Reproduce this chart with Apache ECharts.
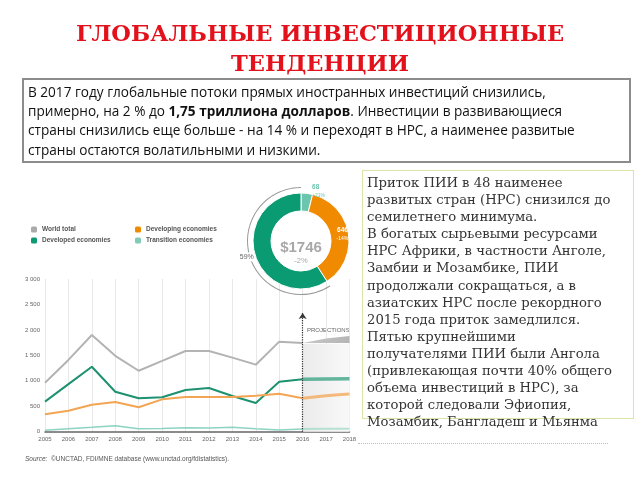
<!DOCTYPE html>
<html>
<head>
<meta charset="utf-8">
<script src="https://cdn.jsdelivr.net/npm/echarts@6/dist/echarts.min.js"></script>
<style>
  body { margin: 0; background: #fff; }
  #slide { position: relative; width: 640px; height: 480px; overflow: hidden; }
  #main { position: absolute; left: 0; top: 0; width: 640px; height: 480px; }
  .title {
    position: absolute; left: 0; top: 18px; width: 640px; text-align: center;
    font-family: "DejaVu Serif", serif; font-weight: bold; font-size: 22.5px;
    line-height: 30px; color: #e3111b;
  }
  .box1 {
    position: absolute; left: 22px; top: 78px; width: 598px; height: 79px;
    border: 2px solid #8c8c8c; padding: 2px 3px 0 4px; white-space: nowrap;
    font-family: "Open Sans", sans-serif; font-size: 13.6px; line-height: 19.2px; color: #111;
  }
  .box2 {
    position: absolute; left: 362px; top: 170px; width: 266px; height: 244px;
    border: 1.5px solid #d8e5a6; padding: 3px 0 0 4px; white-space: nowrap;
    font-family: "DejaVu Serif", serif; font-size: 13.2px; line-height: 17.1px; color: #333;
  }
  .src {
    position: absolute; left: 25px; top: 455px;
    font-family: "Liberation Sans Narrow", "Liberation Sans", sans-serif; font-size: 6.5px; color: #555;
  }
  .dots { position: absolute; left: 358px; top: 443px; width: 250px; border-top: 1px dotted #bbb; }
</style>
</head>
<body>
<div id="slide">
  <div id="main"></div>
  <div class="title">ГЛОБАЛЬНЫЕ ИНВЕСТИЦИОННЫЕ<br>ТЕНДЕНЦИИ</div>
  <div class="box1">В 2017 году глобальные потоки прямых иностранных инвестиций снизились,<br>примерно, на 2 % до <b>1,75 триллиона долларов</b>. Инвестиции в развивающиеся<br>страны снизились еще больше - на 14 % и переходят в НРС, а наименее развитые<br>страны остаются волатильными и низкими.</div>
  <div class="box2">Приток ПИИ в 48 наименее<br>развитых стран (НРС) снизился до<br>семилетнего минимума.<br>В богатых сырьевыми ресурсами<br>НРС Африки, в частности Анголе,<br>Замбии и Мозамбике, ПИИ<br>продолжали сокращаться, а в<br>азиатских НРС после рекордного<br>2015 года приток замедлился.<br>Пятью крупнейшими<br>получателями ПИИ были Ангола<br>(привлекающая почти 40% общего<br>объема инвестиций в НРС), за<br>которой следовали Эфиопия,<br>Мозамбик, Бангладеш и Мьянма</div>
  <div class="dots"></div>
  <div class="src"><i>Source:</i>&nbsp; ©UNCTAD, FDI/MNE database (www.unctad.org/fdistatistics).</div>
</div>
<script>
// данные
var years = ["2005", "2006", "2007", "2008", "2009", "2010", "2011", "2012", "2013", "2014", "2015", "2016", "2017", "2018"];
var worldTotal = [963, 1410, 1900, 1490, 1198, 1390, 1585, 1585, 1455, 1317, 1769, 1743, null, null];
var developed = [590, 935, 1277, 786, 656, 676, 819, 858, 701, 564, 983, 1029, null, null];
var developing = [341, 413, 531, 583, 479, 636, 682, 680, 684, 708, 747, 656, null, null];
var transition = [27, 59, 86, 118, 59, 65, 79, 73, 86, 59, 33, 52, null, null];

// прогноз 2016-2018
var worldProjLow = [null, null, null, null, null, null, null, null, null, null, null, 1743, 1745, 1745];
var worldProjBand = [null, null, null, null, null, null, null, null, null, null, null, 0, 85, 135];
var developedProj = [null, null, null, null, null, null, null, null, null, null, null, 1029, 1035, 1040];
var developingProj = [null, null, null, null, null, null, null, null, null, null, null, 656, 705, 740];
var transitionProj = [null, null, null, null, null, null, null, null, null, null, null, 52, 56, 58];

// кольцевая диаграмма 2016
var donutNames = ["Transition 2016", "Developing 2016", "Developed 2016"];
var donutValues = [68, 646, 1032];
var donutChanges = ["+21%", "-14%", "+5%"];
var totalChange = "-2%";

var NARROW = '"Liberation Sans Narrow", "Liberation Sans", sans-serif';

function fmtThousands(v) {
  var s = String(v);
  return s.length > 3 ? s.slice(0, s.length - 3) + " " + s.slice(-3) : s;
}

var total = donutValues.reduce(function (a, b) { return a + b; }, 0);
var devShare = Math.round((donutValues[2] / total) * 100) + "%";

var myChart = echarts.init(document.getElementById("main"));

var legendText = { fontSize: 6.5, color: "#555", fontWeight: "bold", fontFamily: NARROW };

var option = {
  animation: false,
  grid: { left: 45, right: 290.5, top: 279, bottom: 48.3 },
  legend: [
    {
      left: 26, top: 221, orient: "vertical", itemWidth: 6, itemHeight: 6, itemGap: 4,
      icon: "roundRect", selectedMode: false, textStyle: legendText,
      data: [
        { name: "World total", itemStyle: { color: "#aaaaaa" } },
        { name: "Developed economies", itemStyle: { color: "#0f9a73" } },
      ],
    },
    {
      left: 130, top: 221, orient: "vertical", itemWidth: 6, itemHeight: 6, itemGap: 4,
      icon: "roundRect", selectedMode: false, textStyle: legendText,
      data: [
        { name: "Developing economies", itemStyle: { color: "#f08a00" } },
        { name: "Transition economies", itemStyle: { color: "#7fcbb5" } },
      ],
    },
  ],
  xAxis: {
    type: "category",
    boundaryGap: false,
    data: years,
    axisLine: { lineStyle: { color: "#666", width: 1.5 } },
    axisTick: { show: false },
    axisLabel: { interval: 0, fontSize: 6, color: "#666", margin: 5, fontFamily: NARROW },
    splitLine: { show: true, lineStyle: { color: "#e8e8e8" } },
  },
  yAxis: {
    type: "value",
    min: 0,
    max: 3000,
    interval: 500,
    axisLine: { show: false },
    axisTick: { show: false },
    splitLine: { show: false },
    axisLabel: { fontSize: 6, color: "#666", margin: 5, fontFamily: NARROW, formatter: fmtThousands },
  },
  graphic: [
    {
      type: "text", x: 307, y: 330,
      style: { text: "PROJECTIONS", fill: "#666", font: "6px " + NARROW, textVerticalAlign: "middle" },
    },
    {
      type: "text", x: 301, y: 248,
      style: { text: "$" + total, fill: "#a8a8a8", font: "bold 15px " + NARROW, textAlign: "center", textVerticalAlign: "middle" },
    },
    {
      type: "text", x: 301, y: 261,
      style: { text: totalChange, fill: "#a8a8a8", font: "7.5px " + NARROW, textAlign: "center", textVerticalAlign: "middle" },
    },
  ],
  series: [
    {
      name: "World total", type: "line", data: worldTotal, showSymbol: false,
      lineStyle: { color: "#b3b3b3", width: 2 }, itemStyle: { color: "#b3b3b3" },
      markArea: {
        silent: true,
        itemStyle: {
          color: new echarts.graphic.LinearGradient(0, 0, 1, 0, [
            { offset: 0, color: "#ebebeb" },
            { offset: 1, color: "#f9f9f9" },
          ]),
        },
        data: [[{ xAxis: "2016", yAxis: 0 }, { xAxis: "2018", yAxis: 1730 }]],
      },
      markLine: {
        silent: true,
        symbol: ["none", "arrow"],
        symbolSize: 6,
        label: { show: false },
        lineStyle: { color: "#333", type: "dotted", width: 1.2 },
        data: [[{ coord: ["2016", 0] }, { coord: ["2016", 2332] }]],
      },
    },
    {
      name: "Developed economies", type: "line", data: developed, showSymbol: false,
      lineStyle: { color: "#1e9170", width: 2 }, itemStyle: { color: "#1e9170" },
    },
    {
      name: "Developing economies", type: "line", data: developing, showSymbol: false,
      lineStyle: { color: "#f3a553", width: 2 }, itemStyle: { color: "#f3a553" },
    },
    {
      name: "Transition economies", type: "line", data: transition, showSymbol: false,
      lineStyle: { color: "#8dd3c1", width: 1.5 }, itemStyle: { color: "#8dd3c1" },
    },
    // прогнозы
    {
      type: "line", stack: "wproj", data: worldProjLow, showSymbol: false, silent: true,
      lineStyle: { width: 0 },
    },
    {
      type: "line", stack: "wproj", data: worldProjBand, showSymbol: false, silent: true,
      lineStyle: { width: 0 },
      areaStyle: {
        opacity: 1,
        color: new echarts.graphic.LinearGradient(0, 0, 1, 0, [
          { offset: 0, color: "#c8c8c8" },
          { offset: 1, color: "#b5b5b5" },
        ]),
      },
    },
    {
      type: "line", data: developedProj, showSymbol: false, silent: true,
      lineStyle: { color: "#3fa585", width: 3.5, opacity: 0.8 },
    },
    {
      type: "line", data: developingProj, showSymbol: false, silent: true, smooth: true,
      lineStyle: { color: "#f3a553", width: 3, opacity: 0.75 },
    },
    {
      type: "line", data: transitionProj, showSymbol: false, silent: true,
      lineStyle: { color: "#9bd8c8", width: 2, opacity: 0.7 },
    },
    // кольцо
    {
      type: "pie",
      center: [301, 241],
      radius: [30, 48],
      startAngle: 90,
      silent: true,
      itemStyle: { borderColor: "#fff", borderWidth: 1 },
      label: {
        position: "inside",
        color: "#fff",
        fontFamily: NARROW,
        lineHeight: 8,
        formatter: function (p) {
          return "{v|" + fmtThousands(p.value) + "}\n{c|" + donutChanges[p.dataIndex] + "}";
        },
        rich: {
          v: { fontSize: 6.5, fontWeight: "bold", color: "#fff", fontFamily: NARROW },
          c: { fontSize: 5, color: "#fff", fontFamily: NARROW },
        },
      },
      labelLine: { show: false, length: 2, length2: 0 },
      data: [
        {
          name: donutNames[0], value: donutValues[0], itemStyle: { color: "#6cc5ae" },
          label: {
            position: "outside",
            rich: {
              v: { fontSize: 6.5, fontWeight: "bold", color: "#6cc5ae", fontFamily: NARROW },
              c: { fontSize: 5, color: "#6cc5ae", fontFamily: NARROW },
            },
          },
        },
        { name: donutNames[1], value: donutValues[1], itemStyle: { color: "#f08a00" } },
        { name: donutNames[2], value: donutValues[2], itemStyle: { color: "#0a9b73" } },
      ],
    },
    {
      type: "pie",
      center: [301, 241],
      radius: [53, 54],
      startAngle: 90,
      silent: true,
      label: { show: false },
      labelLine: { show: false },
      data: [
        { name: "rest", value: donutValues[0] + donutValues[1], itemStyle: { color: "rgba(0,0,0,0)" } },
        {
          name: "share", value: donutValues[2], itemStyle: { color: "#999" },
          label: {
            show: true, position: "inside", formatter: devShare, color: "#666",
            fontSize: 7, fontFamily: NARROW, backgroundColor: "#fff", padding: [1, 0],
          },
        },
      ],
    },
  ],
};

myChart.setOption(option);
</script>
</body>
</html>
